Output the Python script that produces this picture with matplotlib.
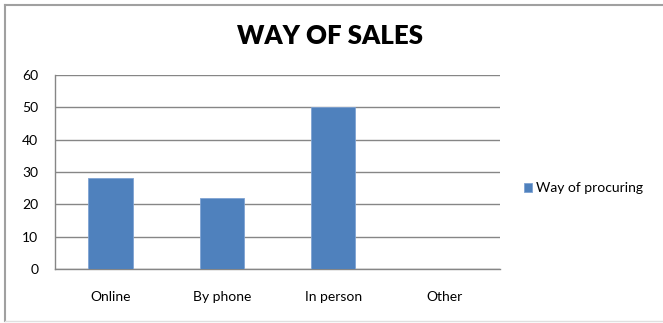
import matplotlib.pyplot as plt
from matplotlib.lines import Line2D

categories = ['Online', 'By phone', 'In person', 'Other']
values = [28, 22, 50, 0]
series_name = 'Way of procuring'
title = 'WAY OF SALES'

plt.rcParams['font.family'] = ['Lato', 'DejaVu Sans']

fig = plt.figure(figsize=(6.63, 3.23), dpi=100)
ax = fig.add_axes([55/663, 1 - 269/323, 445/663, 194/323])

x = range(len(categories))
ax.bar(x, values, width=0.4, color='#4F81BD', edgecolor='#7FA3D3',
       linewidth=0.6, label=series_name, zorder=3)

ax.set_xlim(-0.5, len(categories) - 0.5)
ax.set_ylim(0, 60)
ax.set_yticks(range(0, 61, 10))
ax.set_xticks(list(x))
ax.set_xticklabels(categories, fontsize=10)
ax.tick_params(axis='y', labelsize=10, length=0, pad=12)
ax.tick_params(axis='x', length=0, pad=16)
ax.grid(axis='y', color='#868686', linewidth=1.0, zorder=0)
for s in ['top', 'right']:
    ax.spines[s].set_visible(False)
for s in ['left', 'bottom']:
    ax.spines[s].set_color('#868686')
    ax.spines[s].set_linewidth(1.0)

fig.text(330/663, 1 - 36/323, title, ha='center', va='center',
         fontsize=18.5, fontweight='heavy')

ax.legend(loc='center left', bbox_to_anchor=(511/663, 1 - 188/323),
          bbox_transform=fig.transFigure, frameon=False, fontsize=10,
          handlelength=0.6, handleheight=0.6, handletextpad=0.3)

# chart frame
fig.add_artist(Line2D([5/663, 1], [1 - 5/323] * 2, color='#A0A0A0', lw=1.5))
fig.add_artist(Line2D([5/663] * 2, [1 - 5/323, 1 - 321/323], color='#A0A0A0', lw=1.5))
fig.add_artist(Line2D([5/663, 1], [1 - 321/323] * 2, color='#E0E0E0', lw=1.0))

fig.savefig('out.png', dpi=100)
